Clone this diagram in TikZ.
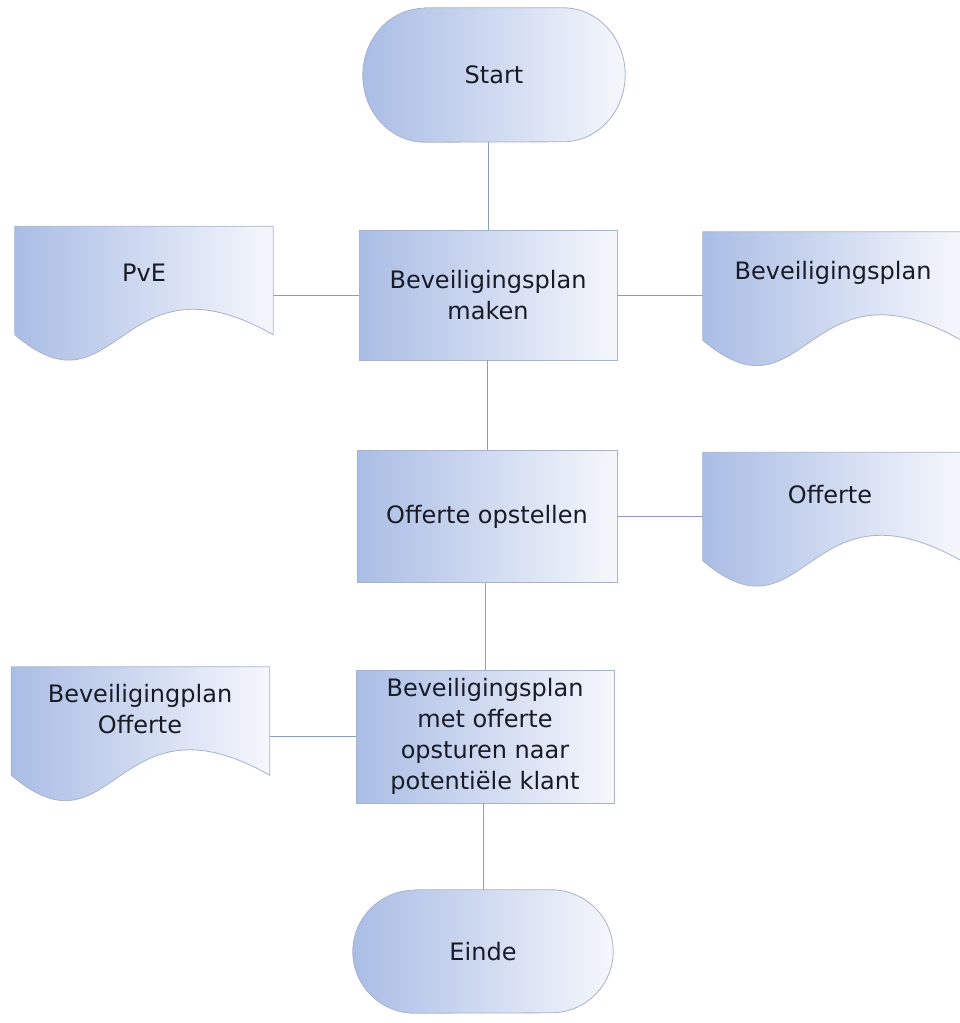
\documentclass[tikz,border=0pt]{standalone}
\usepackage{fontspec}
\setmainfont{DejaVu Sans}
\usetikzlibrary{calc,backgrounds}
\definecolor{leftc}{RGB}{170,189,229}
\definecolor{rightc}{RGB}{245,247,252}
\definecolor{edgec}{RGB}{168,178,204}
\definecolor{linec}{RGB}{140,156,192}
\definecolor{txtc}{RGB}{24,27,38}
\newcommand\docpath[1]{%
  \shadedraw[shapefill] (#1.north west) -- (#1.north east) -- (#1.south east)
    .. controls ($(#1.south east)+(-155,-88)$) and ($(#1.south west)+(103,88)$) .. (#1.south west) -- cycle;}
\newcommand\termpath[1]{%
  \shadedraw[shapefill] ($(#1.north west)+(62,0)$) -- ($(#1.north east)+(-62,0)$)
    arc[start angle=90,end angle=-90,x radius=62pt,y radius=0.5*\termh]
    -- ($(#1.south west)+(62,0)$)
    arc[start angle=270,end angle=90,x radius=62pt,y radius=0.5*\termh] -- cycle;}
\begin{document}
\begin{tikzpicture}[x=1pt,y=-1pt,
  every node/.style={font=\fontsize{24}{31}\selectfont, text=txtc, inner sep=0pt, align=center},
  shapefill/.style={draw=edgec, line width=0.8pt, left color=leftc, right color=rightc},
  procbox/.style={shapefill},
  docnode/.style={minimum width=258pt, minimum height=108pt},
  conn/.style={draw=linec, line width=1pt}]
\useasboundingbox (0,0) rectangle (960,1023);

% terminals
\node[minimum width=262pt, minimum height=134pt] (start) at (494,75) {Start};
\node[minimum width=260pt, minimum height=123pt] (einde) at (483,951.5) {Einde};
\begin{scope}[on background layer]
  \fill[white] (0,0) rectangle (960,1023);
  \def\termh{134pt}\termpath{start}
  \def\termh{123pt}\termpath{einde}
\end{scope}

% process boxes
\node[procbox, minimum width=258pt, minimum height=130pt] (b1) at (488,295) {Beveiligingsplan\\maken};
\node[procbox, minimum width=260pt, minimum height=132pt] (b2) at (487,516.5) {Offerte opstellen};
\node[procbox, minimum width=258pt, minimum height=133pt] (b3) at (485,736.5) {Beveiligingsplan\\met offerte\\opsturen naar\\potentiële klant};

% documents
\node[docnode] (pve) at (144,280.5) {};
\node[docnode] (bp) at (832,286) {};
\node[docnode] (off) at (832,506.5) {};
\node[docnode] (bo) at (140.5,721) {};
\docpath{pve}
\docpath{bp}
\docpath{off}
\docpath{bo}
\node (pvet) at (144,273) {PvE};
\node (bpt) at (833,273) {Beveiligingsplan};
\node (offt) at (830,495) {Offerte};
\node (bot) at (140,709) {Beveiligingplan\\Offerte};

% connectors
\draw[conn] (b1.north) -- (b1.north |- start.south);
\draw[conn] (b2.north) -- (b2.north |- b1.south);
\draw[conn] (b3.north) -- (b3.north |- b2.south);
\draw[conn] (einde.north) -- (einde.north |- b3.south);
\draw[conn] (b1.west) -- (b1.west -| pve.east);
\draw[conn] (b1.east) -- (b1.east -| bp.west);
\draw[conn] (b2.east) -- (b2.east -| off.west);
\draw[conn] (b3.west) -- (b3.west -| bo.east);
\end{tikzpicture}
\end{document}
